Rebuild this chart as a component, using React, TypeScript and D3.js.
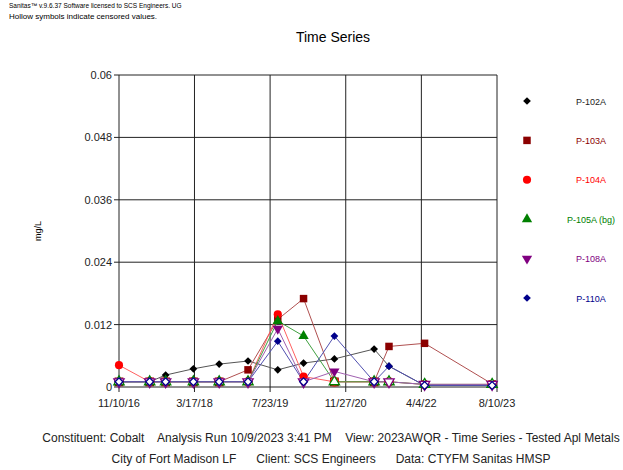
import React, { useEffect, useRef } from 'react';
import * as d3 from 'd3';

// sample dates shared by the wells
const sampleDates = [
  '2016-11-10', '2017-05-29', '2017-09-10', '2018-03-10', '2018-08-25', '2019-03-01',
  '2019-09-11', '2020-02-26', '2020-09-14', '2021-05-31', '2021-09-05', '2022-04-25', '2023-07-09',
];

// cobalt values, mg/L
const p102a = [0.001, 0.001, 0.0023, 0.0035, 0.0044, 0.005, 0.0033, 0.0046, 0.0054, 0.0073, 0.004, 0.0003, 0.0003];
const p103a = [0.001, 0.001, 0.001, 0.001, 0.001, 0.0033, 0.013, 0.017, 0.001, 0.001, 0.0078, 0.0084, 0.0006];
const p104a = [0.0042, 0.001, 0.001, 0.001, 0.001, 0.001, 0.014, 0.002, 0.001, 0.001, 0.001, 0.0005, 0.0005];
const p105a = [0.001, 0.001, 0.001, 0.001, 0.001, 0.001, 0.0127, 0.0098, 0.001, 0.001, 0.001, 0.0005, 0.0005];
const p108a = [0.001, 0.001, 0.001, 0.001, 0.001, 0.001, 0.0112, 0.001, 0.003, 0.001, 0.001, 0.0005, 0.0005];
const p110a = [0.001, 0.001, 0.001, 0.001, 0.001, 0.001, 0.0088, 0.001, 0.0098, 0.001, 0.004, 0.0003, 0.0003];

// censored (non-detect) flags, 1 = hollow symbol
const c102a = [1, 1, 0, 0, 0, 0, 0, 0, 0, 0, 0, 1, 1];
const c103a = [1, 1, 1, 1, 1, 0, 0, 0, 1, 1, 0, 0, 0];
const c104a = [0, 1, 1, 1, 1, 1, 0, 0, 1, 1, 1, 1, 1];
const c105a = [1, 1, 1, 1, 1, 1, 0, 0, 1, 1, 1, 1, 1];
const c108a = [1, 1, 1, 1, 1, 1, 0, 1, 0, 1, 1, 1, 1];
const c110a = [1, 1, 1, 1, 1, 1, 0, 1, 0, 1, 0, 1, 1];

const wellNames = ['P-102A', 'P-103A', 'P-104A', 'P-105A (bg)', 'P-108A', 'P-110A'];
const xTickDates = ['2016-11-10', '2018-03-17', '2019-07-23', '2020-11-27', '2022-04-04', '2023-08-10'];
const xTickLabels = ['11/10/16', '3/17/18', '7/23/19', '11/27/20', '4/4/22', '8/10/23'];
const yTicks = [0, 0.012, 0.024, 0.036, 0.048, 0.06];

const colors = ['#000000', '#8b0000', '#ff0000', '#008000', '#800080', '#00008b'];
const lineColors = ['#555555', '#b05050', '#ff6060', '#40a040', '#a060b0', '#5050b0'];
const symbols = [d3.symbolSquare, d3.symbolSquare, d3.symbolCircle, d3.symbolTriangle, d3.symbolTriangle, d3.symbolSquare];
const symSize = [30, 56, 52, 46, 46, 30];
const symRotate = [45, 0, 0, 0, 180, 45];

const App = () => {
  const svgRef = useRef<SVGSVGElement>(null);

  useEffect(() => {
    const svg = d3.select(svgRef.current);
    svg.selectAll('*').remove();
    const font = 'Arial, "Liberation Sans", sans-serif';

    const margin = { top: 75, left: 119, right: 497, bottom: 387 };
    const parse = d3.timeParse('%Y-%m-%d');
    const x = d3
      .scaleTime()
      .domain([parse(xTickDates[0])!, parse(xTickDates[5])!])
      .range([margin.left, margin.right]);
    const y = d3.scaleLinear().domain([0, 0.06]).range([margin.bottom, margin.top]);

    const values = [p102a, p103a, p104a, p105a, p108a, p110a];
    const censored = [c102a, c103a, c104a, c105a, c108a, c110a];
    const series = wellNames.map((name, i) => ({
      name,
      i,
      pts: sampleDates.map((d, j) => ({ date: parse(d)!, v: values[i][j], c: censored[i][j] })),
    }));

    // header text
    svg.append('text').attr('x', 9).attr('y', 8).attr('font-size', 6.5).attr('font-family', font)
      .text('Sanitas\u2122 v.9.6.37 Software licensed to SCS Engineers. UG');
    svg.append('text').attr('x', 9).attr('y', 19).attr('font-size', 8).attr('font-family', font)
      .text('Hollow symbols indicate censored values.');
    svg.append('text').attr('x', 333).attr('y', 42).attr('text-anchor', 'middle')
      .attr('font-size', 14).attr('font-family', font).text('Time Series');

    // grid
    const g = svg.append('g');
    g.selectAll('line.h').data(yTicks).enter().append('line')
      .attr('x1', margin.left - 5).attr('x2', margin.right)
      .attr('y1', (d) => y(d)).attr('y2', (d) => y(d))
      .attr('stroke', '#222').attr('stroke-width', 1);
    g.selectAll('line.v').data(xTickDates).enter().append('line')
      .attr('x1', (d) => x(parse(d)!)).attr('x2', (d) => x(parse(d)!))
      .attr('y1', margin.top).attr('y2', margin.bottom + 5)
      .attr('stroke', '#222').attr('stroke-width', 1);

    g.selectAll('text.y').data(yTicks).enter().append('text')
      .attr('x', margin.left - 7).attr('y', (d) => y(d) + 4)
      .attr('text-anchor', 'end').attr('font-size', 11).attr('font-family', font).attr('fill', '#222')
      .text((d) => (d === 0 ? '0' : String(d)));
    g.selectAll('text.x').data(xTickDates).enter().append('text')
      .attr('x', (d) => x(parse(d)!)).attr('y', 407)
      .attr('text-anchor', 'middle').attr('font-size', 11).attr('font-family', font).attr('fill', '#222')
      .text((d, i) => xTickLabels[i]);

    svg.append('text').attr('transform', 'translate(41,231) rotate(-90)').attr('text-anchor', 'middle')
      .attr('font-size', 9).attr('font-family', font).text('mg/L');

    // lines
    const line = d3.line<{ date: Date; v: number }>().x((d) => x(d.date)).y((d) => y(d.v));
    series.forEach((s) => {
      svg.append('path').datum(s.pts).attr('d', line).attr('fill', 'none')
        .attr('stroke', lineColors[s.i]).attr('stroke-width', 1);
    });

    // symbols
    series.forEach((s) => {
      svg.append('g').selectAll('path').data(s.pts).enter().append('path')
        .attr('d', d3.symbol().type(symbols[s.i]).size(symSize[s.i])())
        .attr('transform', (d) => `translate(${x(d.date)},${y(d.v)}) rotate(${symRotate[s.i]})`)
        .attr('fill', (d) => (d.c ? '#fff' : colors[s.i]))
        .attr('stroke', colors[s.i])
        .attr('stroke-width', (d) => (d.c ? 1.3 : 0));
    });

    // legend
    const leg = svg.append('g');
    wellNames.forEach((name, i) => {
      const ly = 101 + i * 39.4;
      leg.append('path').attr('d', d3.symbol().type(symbols[i]).size(symSize[i])())
        .attr('transform', `translate(527,${ly}) rotate(${symRotate[i]})`).attr('fill', colors[i]);
      leg.append('text').attr('x', 591).attr('y', ly + 3.5).attr('text-anchor', 'middle')
        .attr('font-size', 9).attr('font-family', font)
        .attr('fill', i === 0 ? '#222' : colors[i]).text(name);
    });

    // footer
    svg.append('text').attr('x', 331).attr('y', 442).attr('text-anchor', 'middle')
      .attr('font-size', 12).attr('font-family', font).attr('fill', '#222').attr('xml:space', 'preserve')
      .text('Constituent: Cobalt    Analysis Run 10/9/2023 3:41 PM    View: 2023AWQR - Time Series - Tested Apl Metals');
    svg.append('text').attr('x', 331).attr('y', 463).attr('text-anchor', 'middle')
      .attr('font-size', 12).attr('font-family', font).attr('fill', '#222').attr('xml:space', 'preserve')
      .text('City of Fort Madison LF      Client: SCS Engineers      Data: CTYFM Sanitas HMSP');
  }, []);

  return (
    <svg
      ref={svgRef}
      width={623}
      height={470}
      style={{ position: 'absolute', left: 0, top: 0, background: '#fff' }}
    />
  );
};

export default App;
